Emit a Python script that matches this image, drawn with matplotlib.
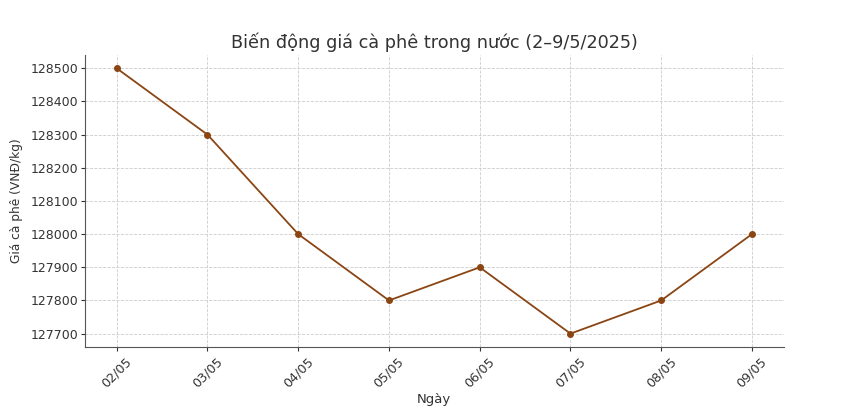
import matplotlib
matplotlib.use("Agg")
import matplotlib.pyplot as plt

# Dữ liệu giá cà phê trong nước
ngay = ["02/05", "03/05", "04/05", "05/05", "06/05", "07/05", "08/05", "09/05"]
gia = [128500, 128300, 128000, 127800, 127900, 127700, 127800, 128000]

fig = plt.figure(figsize=(8.5, 4.11), dpi=100)
ax = fig.add_axes([0.1, 0.156, 0.822, 0.71])

ax.plot(ngay, gia, color="#8b4513", marker="o", markersize=4, linewidth=1.3)

ax.set_title("Biến động giá cà phê trong nước (2–9/5/2025)", fontsize=12.7, color="#333333", pad=5)
ax.set_xlabel("Ngày", fontsize=9.5, color="#333333", labelpad=2)
ax.set_ylabel("Giá cà phê (VNĐ/kg)", fontsize=8.8, color="#333333", labelpad=5)

ax.grid(True, linestyle="--", color="#cccccc", linewidth=0.6)
ax.spines["top"].set_visible(False)
ax.spines["right"].set_visible(False)
for s in ("left", "bottom"):
    ax.spines[s].set_color("#555555")
ax.tick_params(colors="#333333", length=3)
ax.tick_params(axis="y", labelsize=9, pad=2)
ax.tick_params(axis="x", labelsize=9.2, pad=3)
plt.setp(ax.get_xticklabels(), rotation=45)
ax.ticklabel_format(axis="y", style="plain", useOffset=False)

fig.savefig("out.png", dpi=100)
